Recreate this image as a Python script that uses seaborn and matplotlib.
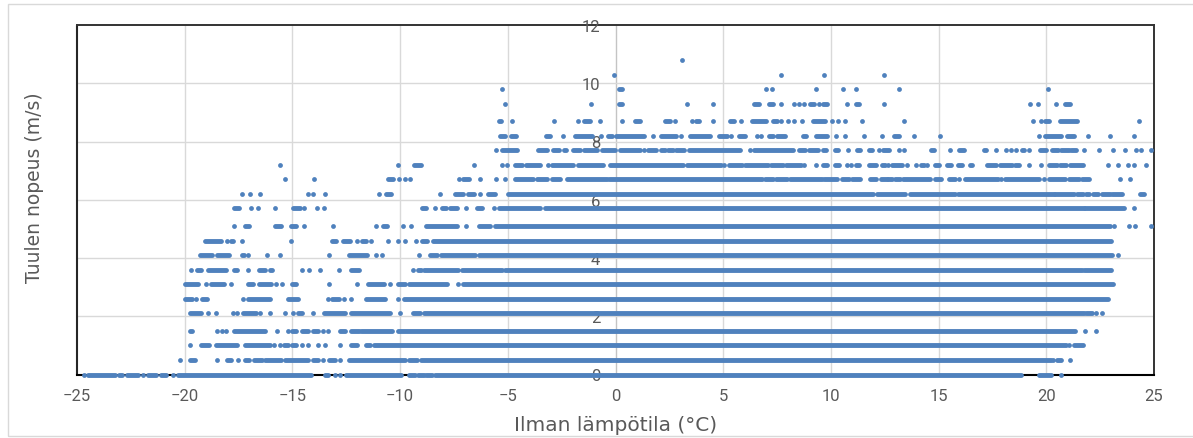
import matplotlib
matplotlib.use("Agg")
import matplotlib.pyplot as plt
import pandas as pd
import seaborn as sns
from matplotlib.patches import Rectangle

# a tuple is a run of overlapping dots (first, last temperature), a float is one dot
row_0_0 = [-24.69, (-24.49, -23.25), (-23.05, -22.89), (-22.66, -22.17), -21.93, (-21.7, -21.32), (-21.11, -20.88),
           -20.54, (-20.31, -14.12), (-13.5, -13.34), -13.03, -12.77, (-12.49, -9.97), (-9.6, -9.3), (-9.18, -8.88),
           (-8.78, -8.5), (-8.37, 18.81), (19.66, 20.2), 20.68]
row_0_5 = [-20.2, (-19.77, -19.54), -18.48, (-18.05, -17.83), -17.52, (-17.21, -17.03), (-16.8, -16.41),
           (-16.25, -15.51), (-15.33, -14.27), (-14.06, -13.81), -13.56, (-13.3, -13.03), -12.77, (-12.37, -9.77),
           (-9.6, -9.2), (-9.05, 20.2), 20.33, (20.51, 20.7), 21.11]
row_1_0 = [-19.77, (-19.23, -18.87), (-18.54, -17.55), (-17.21, -16.02), -15.85, -15.59, (-15.38, -15.2),
           (-15.02, -14.85), -14.57, -14.29, -13.79, -13.5, -12.77, (-12.29, -11.98), (-11.58, -11.39),
           (-11.2, 20.9), 21.04, (21.28, 21.72)]
row_1_5 = [(-19.77, -19.67), -18.5, -18.28, -18.06, (-17.71, -16.25), -15.7, -15.22, (-15.02, -14.85),
           (-14.55, -14.27), (-14.06, -13.81), -13.56, -13.34, (-12.77, -12.54), (-12.29, -11.93), (-11.83, -10.39),
           (-10.08, 21.33), 21.81, 22.31]
row_2_1 = [(-19.77, -19.24), -18.9, -18.54, -17.77, -17.55, (-17.28, -16.67), -16.52, -16.05, -15.33, -14.98,
           (-14.72, -14.54), -14.06, (-13.54, -12.57), (-12.29, -10.48), -10.0, (-9.38, -9.07), (-8.89, 21.75),
           (21.83, 22.1), 22.32, 22.57]
row_2_6 = [(-20.0, -19.66), -19.49, (-19.21, -18.96), -17.28, (-17.06, -16.02), (-15.2, -14.72), -13.34,
           (-13.14, -12.83), -12.6, -12.28, (-11.58, -10.7), -10.08, (-9.81, 22.88)]
row_3_1 = [(-20.0, -19.4), -19.0, (-18.76, -18.19), -17.83, (-17.06, -16.83), (-16.55, -15.98), -15.74, -15.48,
           (-15.0, -14.85), -13.28, -12.0, (-11.5, -10.77), -10.48, (-10.08, -9.77), (-9.6, -7.8), -7.29,
           (-7.09, 23.1)]
row_3_6 = [-19.71, (-19.43, -19.26), (-18.93, -18.07), (-17.72, -17.55), -17.06, (-16.56, -16.25), (-16.05, -15.94),
           -14.57, -14.21, -13.7, -12.85, (-12.29, -11.93), -9.38, (-9.15, -9.04), (-8.89, -7.3), (-7.14, -5.28),
           (-5.12, 21.64), (21.75, 22.99)]
row_4_1 = [(-19.27, -18.73), (-18.5, -17.94), (-17.34, -17.26), -17.04, -16.19, -15.57, -13.28, (-12.37, -11.55),
           -11.13, -10.85, -9.13, (-8.6, -8.3), (-8.11, -6.52), (-6.32, 23.07), 23.31]
row_4_6 = [(-19.07, -18.3), -18.05, (-17.83, -17.76), -17.34, -15.06, (-13.14, -12.99), (-12.65, -12.34), -11.98,
           (-11.75, -11.59), -11.33, -10.56, -10.12, -9.77, -9.27, (-8.99, -8.76), (-8.45, 22.99)]
row_5_1 = [-17.71, (-17.21, -17.02), (-15.82, -15.54), (-15.05, -14.83), -14.47, -13.12, -11.13, (-10.8, -10.59),
           -9.85, -9.49, (-8.78, -7.34), -6.92, (-6.36, -5.82), (-5.59, 22.97), 23.16, 23.85, 24.12, 24.85]
row_5_7 = [(-17.71, -17.5), -16.9, -16.6, -15.83, (-14.97, -14.64), -14.47, -13.84, -13.55, (-8.99, -8.79), -8.39,
           (-8.06, -7.86), (-7.68, -7.34), -6.92, (-6.44, -6.21), -5.63, (-5.43, -3.5), (-3.27, 21.73),
           (21.81, 23.6), 24.05]
row_6_2 = [-17.34, -16.98, -16.5, -14.27, -14.06, -13.5, -10.98, (-10.67, -10.42), -8.13, (-7.45, -7.06),
           (-6.83, -6.56), -6.27, (-5.9, -5.59), (-4.97, 11.97), (12.12, 13.45), (13.65, 15.77), (15.88, 20.34),
           (20.42, 21.27), (21.42, 21.69), (21.84, 22.0), (22.15, 22.38), (22.59, 22.94), (23.05, 23.51),
           (24.33, 24.52)]
row_6_7 = [-15.36, -14.0, (-10.56, -10.34), -10.05, -9.77, -9.54, -7.26, (-7.06, -6.81), -6.27, -5.57, -5.14,
           (-4.66, -3.81), (-3.65, -3.19), (-2.96, -2.57), (-2.26, -0.4), (-0.28, 6.78), (6.93, 7.32), (7.45, 7.94),
           (8.1, 9.57), (9.67, 10.26), (10.5, 10.85), (10.96, 11.35), (11.81, 12.09), (12.31, 12.59), (12.66, 12.82),
           (12.97, 13.2), (13.36, 14.61), (14.85, 15.11), (15.46, 15.77), 15.96, (16.24, 17.74), 17.88,
           (18.1, 19.64), 19.88, (20.11, 20.88), (21.04, 21.5), (21.66, 21.97), 23.44, 23.87]
row_7_2 = [-15.57, -10.12, (-9.35, -9.04), -6.56, -5.28, -5.06, (-4.66, -4.35), (-4.16, -3.5), -3.13, (-2.96, -1.95),
           (-1.72, -0.56), (-0.25, 3.14), (3.3, 4.92), 5.03, (5.28, 5.85), (6.0, 7.09), (7.24, 7.79), (7.91, 8.59),
           8.75, 9.32, (9.63, 9.8), (10.19, 10.36), 10.73, 10.94, (11.15, 11.3), (11.78, 12.09), (12.38, 12.51),
           12.66, (12.85, 13.28), 13.53, 13.96, (14.18, 14.3), 14.46, (14.85, 15.0), (15.39, 15.57), (15.88, 16.07),
           (16.44, 16.56), (17.24, 17.66), (17.86, 18.41), (18.56, 18.72), 19.18, 19.74, (20.14, 20.5), (20.65, 20.91),
           (21.08, 21.7), 22.86, 23.31, 23.81, 24.09, 24.64]
row_7_7 = [-5.57, (-5.28, -4.58), (-3.58, -3.19), (-2.88, -2.6), (-2.41, -2.29), (-1.95, -1.67), (-1.44, -0.87),
           (-0.63, -0.02), (0.19, 1.15), 1.32, (1.52, 1.87), (2.09, 2.31), (2.45, 2.68), (2.8, 3.17), (3.42, 5.77),
           6.24, (6.42, 8.25), (8.53, 8.79), (8.99, 9.41), (9.63, 9.77), (10.19, 10.34), 10.8, (11.19, 11.35),
           (11.75, 11.9), 12.23, (12.43, 12.71), 13.16, 13.39, (14.64, 14.8), 15.54, (15.96, 16.19), (17.09, 17.21),
           17.66, 18.11, 18.37, 18.59, (18.87, 18.98), 19.21, (19.69, 20.0), (20.26, 20.53), (20.68, 21.04),
           (21.16, 21.38), 21.73, 22.45, 23.08, 23.67, 24.15, 24.4, 24.88]
row_8_2 = [(-5.36, -5.12), (-4.86, -4.61), (-3.22, -3.03), -2.43, (-1.87, -1.1), -0.65, (-0.37, -0.17), (0.02, 1.32),
           1.76, (2.09, 2.83), 3.05, (3.45, 4.41), (4.81, 5.19), 5.34, (5.74, 5.99), 6.55, 6.76, (7.14, 7.29),
           (7.51, 7.85), (8.72, 8.84), (9.29, 9.8), 10.23, 10.67, 11.52, 12.38, (12.94, 13.16), 13.88, 15.05, 19.67,
           (19.95, 20.68), (20.96, 21.27), 21.95, 22.96, 24.09]
row_8_7 = [(-5.43, -5.32), -4.8, -2.85, -1.72, (-1.44, -1.18), -0.71, 0.28, (0.91, 1.15), (2.31, 2.52), 2.76, 3.54,
           (3.73, 3.87), 4.54, (5.31, 5.5), 5.82, (6.32, 7.01), (7.29, 7.51), 7.68, 8.03, 8.31, 8.67, (9.15, 9.72),
           10.03, 10.31, 10.67, 11.46, 13.38, 19.38, 19.74, (19.95, 20.11), (20.65, 21.42), 24.29]
row_9_3 = [-5.14, -1.15, (0.14, 0.3), 3.33, 4.54, (6.42, 6.66), (7.14, 7.29), 7.68, 8.31, 8.53, 8.75, (9.02, 9.21),
           9.46, (9.63, 9.8), 10.74, (11.16, 11.32), 12.46, 19.24, 19.6, 20.45, (20.85, 21.11)]
row_9_8 = [-5.28, (0.14, 0.3), 6.97, 7.26, 9.32, 10.54, 11.16, 13.18, 20.09]
row_10_3 = [-0.08, 7.68, 9.67, 12.46]
row_10_8 = [3.11]

wind_speeds = [0, 0.5, 1.0, 1.5, 2.1, 2.6, 3.1, 3.6, 4.1, 4.6, 5.1, 5.7, 6.2, 6.7, 7.2, 7.7, 8.2, 8.7, 9.3, 9.8, 10.3, 10.8]
rows = [row_0_0, row_0_5, row_1_0, row_1_5, row_2_1, row_2_6, row_3_1, row_3_6, row_4_1, row_4_6, row_5_1, row_5_7,
        row_6_2, row_6_7, row_7_2, row_7_7, row_8_2, row_8_7, row_9_3, row_9_8, row_10_3, row_10_8]

x_ticks = [-25, -20, -15, -10, -5, 0, 5, 10, 15, 20, 25]
y_ticks = [0, 2, 4, 6, 8, 10, 12]

dots = []
runs = []
for speed, row in zip(wind_speeds, rows):
    for item in row:
        if isinstance(item, tuple):
            run_id = len(runs)
            runs.append({"temp": item[0], "speed": speed, "run": run_id})
            runs.append({"temp": item[1], "speed": speed, "run": run_id})
        else:
            dots.append({"temp": item, "speed": speed})
dots_df = pd.DataFrame(dots)
runs_df = pd.DataFrame(runs)

BLUE = "#4f81bd"
GRID = "#d9d9d9"
TEXT = "#595959"

sns.set_style("white")
plt.rcParams["font.family"] = ["Roboto", "DejaVu Sans"]

fig = plt.figure(figsize=(11.93, 4.39), dpi=100)
ax = fig.add_axes([77 / 1193, 1 - 375.5 / 439, (1154 - 77) / 1193, (375.5 - 26) / 439])

fig.add_artist(Rectangle((8 / 1193, 2 / 439), 1300 / 1193, 432 / 439, transform=fig.transFigure,
                         fill=False, edgecolor=GRID, linewidth=1))

for x in x_ticks[1:-1]:
    ax.axvline(x, color="#c4c4c4" if x == 0 else GRID, linewidth=1.0, zorder=1)
for y in y_ticks[1:-1]:
    ax.axhline(y, color=GRID, linewidth=1.0, zorder=1)

sns.lineplot(data=runs_df, x="temp", y="speed", units="run", estimator=None, sort=False, color=BLUE,
             linewidth=3.5, solid_capstyle="round", legend=False, ax=ax, zorder=3, clip_on=False)
sns.scatterplot(data=dots_df, x="temp", y="speed", color=BLUE, s=12, linewidth=0, legend=False, ax=ax, zorder=3,
                clip_on=False)

ax.set_xlim(-25, 25)
ax.set_ylim(0, 12)
ax.set_xticks(x_ticks)
ax.set_yticks(y_ticks)
ax.set_axisbelow(False)
ax.grid(False)

# the value axis crosses at zero, so its labels sit in the middle of the plot
ax.spines["left"].set_position(("data", 0))
ax.spines["left"].set_visible(False)
ax.axvline(-25, color="#262626", linewidth=1.5, zorder=2, clip_on=False)
for side in ["top", "right"]:
    ax.spines[side].set_color("#333333")
    ax.spines[side].set_linewidth(1.4)
ax.spines["bottom"].set_color("black")
ax.spines["bottom"].set_linewidth(1.5)

ax.tick_params(axis="both", length=0, labelsize=12, labelcolor=TEXT)
ax.tick_params(axis="x", pad=10)
ax.tick_params(axis="y", pad=11)
ax.yaxis.set_ticks_position("left")

ax.set_xlabel("")
ax.set_ylabel("")
fig.text(616 / 1193, 1 - 426 / 439, "Ilman lämpötila (°C)", ha="center", va="center", fontsize=14.5,
         color=TEXT, family=["DejaVu Sans"])
fig.text(35 / 1193, 1 - 188 / 439, "Tuulen nopeus (m/s)", rotation=90, ha="center", va="center", fontsize=13.5,
         color=TEXT, family=["DejaVu Sans"])

fig.savefig("out.png", dpi=100)
